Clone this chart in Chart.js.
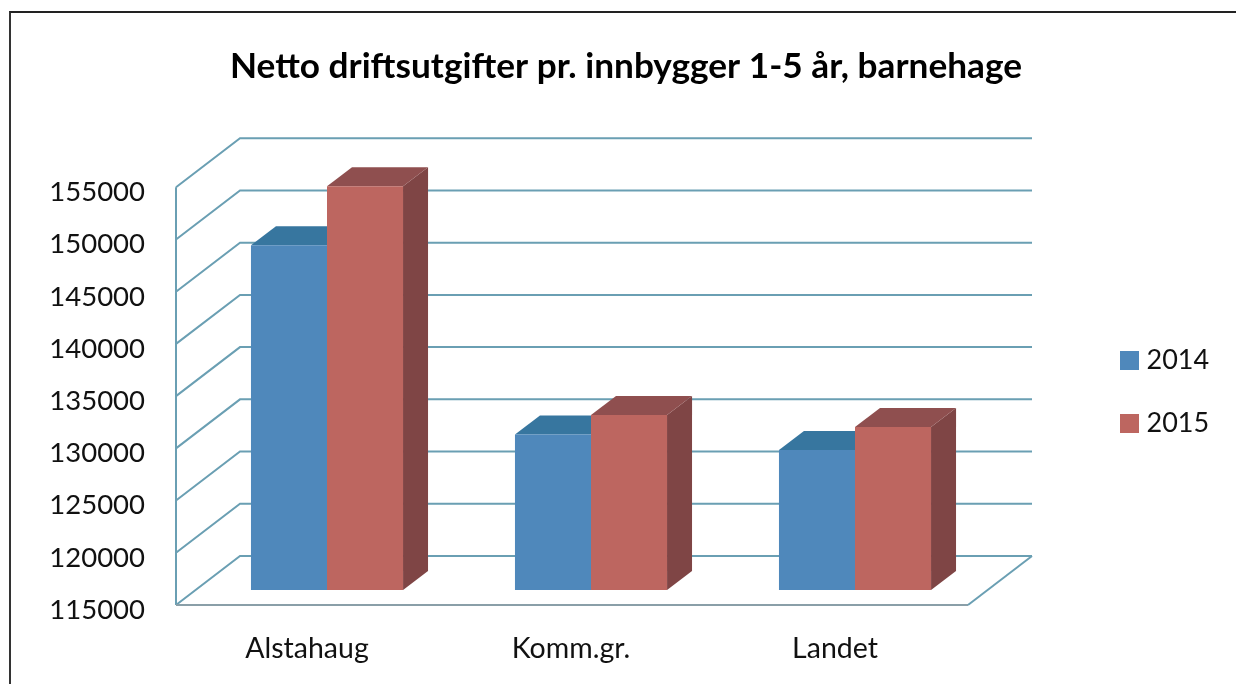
<!DOCTYPE html>
<html>
<head>
<meta charset="utf-8">
<script src="https://cdn.jsdelivr.net/npm/chart.js@4"></script>
<style>
html,body{margin:0;padding:0;background:#fff;overflow:hidden}
#wrap{position:relative;width:1236px;height:684px}
#frame{position:absolute;left:9px;top:11px;right:0;bottom:0;border-left:2px solid #333;border-top:2px solid #222;pointer-events:none}
canvas{position:absolute;left:0;top:0}
</style>
</head>
<body>
<div id="wrap"><canvas id="c" width="1236" height="684"></canvas><div id="frame"></div></div>
<script>
const categories = ['Alstahaug', 'Komm.gr.', 'Landet'];
const series2014 = [148000, 129900, 128400];
const series2015 = [153650, 131750, 130600];
const seriesNames = ['2014', '2015'];
const yMin = 115000, yMax = 155000, yStep = 5000;
const titleText = 'Netto driftsutgifter pr. innbygger 1-5 år, barnehage';

const FONT = 'Lato, "Open Sans", sans-serif';
const GRID = '#6a9fb3', FLOOR = '#8a9fa8';
const FRONT = ['#4f88bb', '#bd6660'];
const TOP = ['#37769f', '#8f4f4f'];
const SIDE = ['#2f6488', '#7f4545'];

const threeD = {
  id: 'threeD',
  beforeLayout(chart) {
    const l = chart.legend;
    if (l && !l._fixed) {
      const f = l.fit;
      l.fit = function () { f.call(this); this.width = 249; };
      l._fixed = true;
    }
  },
  afterLayout(chart) {
    const l = chart.legend;
    l.left = 1090; l.right = 1236; l.top = 311; l.bottom = 480;
  },
  beforeDatasetsDraw(chart) {
    const { ctx, scales: { x, y } } = chart;
    const left = x.left, right = x.right;
    // wall offsets relative to the bar plane
    const fx = -19, fy = 15, bx = 45, by = -34;
    const line = (pts, color, w) => {
      ctx.beginPath();
      pts.forEach((p, i) => i ? ctx.lineTo(p[0], p[1]) : ctx.moveTo(p[0], p[1]));
      ctx.strokeStyle = color; ctx.lineWidth = w; ctx.stroke();
    };
    ctx.save();
    ctx.lineJoin = 'miter';
    for (let v = yMin; v <= yMax; v += yStep) {
      const py = y.getPixelForValue(v);
      line([[left + fx, py + fy], [left + bx, py + by], [right + bx, py + by]], GRID, 2);
    }
    const yb = y.getPixelForValue(yMin), yt = y.getPixelForValue(yMax);
    line([[left + fx, yt + fy], [left + fx, yb + fy]], GRID, 2);
    line([[left + fx, yb + fy], [right + fx, yb + fy]], FLOOR, 2);
    line([[right + fx, yb + fy], [right + bx, yb + by]], GRID, 2);
    // bar tops and sides
    const dx = 25, dy = -19;
    const poly = (pts, color) => {
      ctx.beginPath();
      pts.forEach((p, i) => i ? ctx.lineTo(p[0], p[1]) : ctx.moveTo(p[0], p[1]));
      ctx.closePath(); ctx.fillStyle = color; ctx.fill();
    };
    chart.data.datasets.forEach((ds, di) => {
      chart.getDatasetMeta(di).data.forEach(b => {
        const l = b.x - b.width / 2, r = b.x + b.width / 2, t = b.y, bt = yb;
        poly([[r, t], [r + dx, t + dy], [r + dx, bt + dy], [r, bt]], SIDE[di]);
        poly([[l, t], [l + dx, t + dy], [r + dx, t + dy], [r, t]], TOP[di]);
      });
    });
    ctx.restore();
  }
};

new Chart(document.getElementById('c'), {
  type: 'bar',
  plugins: [threeD],
  data: {
    labels: categories,
    datasets: [
      { label: seriesNames[0], data: series2014, backgroundColor: FRONT[0] },
      { label: seriesNames[1], data: series2015, backgroundColor: FRONT[1] }
    ]
  },
  options: {
    responsive: false,
    animation: false,
    layout: { padding: { left: 16, right: 0, top: 0, bottom: 0 } },
    plugins: {
      tooltip: { enabled: false },
      title: {
        display: true, text: titleText, color: '#000',
        font: { family: FONT, size: 35.2, weight: 'bold', lineHeight: 1.2 },
        padding: { top: 46, bottom: 84 }
      },
      legend: {
        display: true, position: 'right', align: 'start',
        labels: {
          color: '#111', padding: 36, boxWidth: 7, boxHeight: 7,
          font: { family: FONT, size: 27 },
          generateLabels(chart) {
            return Chart.defaults.plugins.legend.labels.generateLabels(chart).map(it => {
              it.lineWidth = 12; it.strokeStyle = it.fillStyle; return it;
            });
          }
        }
      }
    },
    scales: {
      x: {
        grid: { display: false, drawTicks: false }, border: { display: false },
        afterFit(s) { s.height = 94; },
        ticks: { color: '#111', font: { family: FONT, size: 28.5 }, padding: 42, labelOffset: -20, maxRotation: 0 }
      },
      y: {
        min: yMin, max: yMax,
        grid: { display: false, drawTicks: false }, border: { display: false },
        afterFit(s) { s.width = 179; },
        ticks: {
          stepSize: yStep, color: '#111', padding: 50, labelOffset: 20,
          font: { family: FONT, size: 27.5 },
          callback: v => String(v)
        }
      }
    },
    datasets: { bar: { categoryPercentage: 0.576, barPercentage: 1 } }
  }
});
</script>
</body>
</html>
